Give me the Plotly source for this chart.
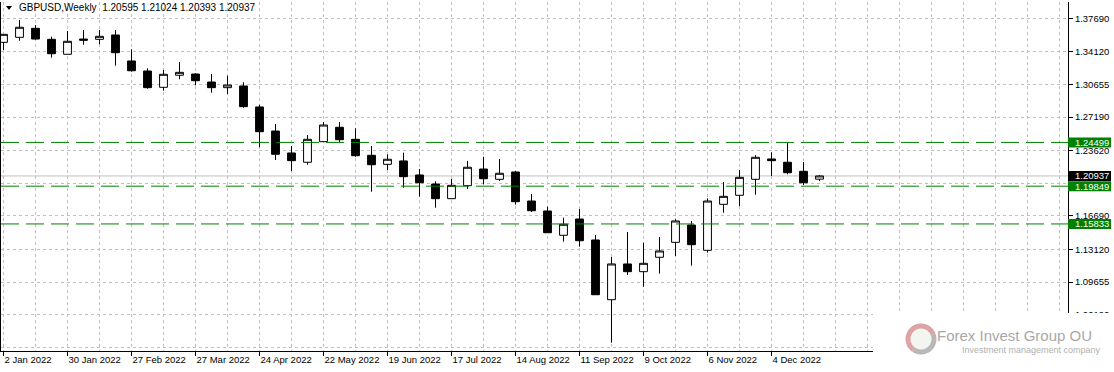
import numpy as np
import pandas as pd
import plotly.graph_objects as go

# ---------------- data ----------------
weeks = pd.date_range("2022-01-02", periods=52, freq="7D").strftime("%Y-%m-%d").tolist()

opens = [1.3514, 1.3567, 1.3663, 1.3546, 1.3387, 1.3549, 1.3546, 1.3592, 1.3316, 1.3209,
         1.3036, 1.3164, 1.3177, 1.3092, 1.3032, 1.3050, 1.2827, 1.2571, 1.2338, 1.2239,
         1.2458, 1.2611, 1.2483, 1.2313, 1.2217, 1.2253, 1.2104, 1.2008, 1.1852, 1.1990,
         1.2167, 1.2058, 1.2136, 1.1827, 1.1721, 1.1463, 1.1636, 1.1413, 1.0778, 1.1158,
         1.1076, 1.1229, 1.1388, 1.1572, 1.1303, 1.1792, 1.1888, 1.2058, 1.2274, 1.2239,
         1.2143, 1.20595]
highs = [1.3600, 1.3751, 1.3698, 1.3574, 1.3634, 1.3645, 1.3645, 1.3645, 1.3440, 1.3238,
         1.3220, 1.3305, 1.3185, 1.3177, 1.3159, 1.3089, 1.2851, 1.2646, 1.2412, 1.2529,
         1.2667, 1.2667, 1.2600, 1.2412, 1.2324, 1.2341, 1.2167, 1.2037, 1.2061, 1.2253,
         1.2298, 1.2274, 1.2146, 1.1902, 1.1767, 1.1650, 1.1742, 1.1466, 1.1232, 1.1498,
         1.1384, 1.1445, 1.1633, 1.1615, 1.1856, 1.2029, 1.2157, 1.2316, 1.2345, 1.2447,
         1.2242, 1.21024]
lows = [1.3433, 1.3531, 1.3542, 1.3351, 1.3385, 1.3489, 1.3493, 1.3266, 1.3202, 1.3021,
        1.3000, 1.3121, 1.3057, 1.2979, 1.2965, 1.2819, 1.2398, 1.2263, 1.2146, 1.2213,
        1.2455, 1.2451, 1.2298, 1.1926, 1.2157, 1.1969, 1.1873, 1.1756, 1.1850, 1.1955,
        1.2005, 1.2040, 1.1788, 1.1710, 1.1488, 1.1395, 1.1342, 1.0830, 1.0321, 1.1041,
        1.0916, 1.1055, 1.1243, 1.1140, 1.1278, 1.1703, 1.1774, 1.1894, 1.2093, 1.2111,
        1.1997, 1.20393]
closes = [1.3599, 1.3674, 1.3549, 1.3393, 1.3525, 1.3537, 1.3578, 1.3404, 1.3212, 1.3032,
          1.3174, 1.3195, 1.3106, 1.3032, 1.3060, 1.2830, 1.2564, 1.2324, 1.2256, 1.2483,
          1.2635, 1.2479, 1.2309, 1.2213, 1.2271, 1.2086, 1.2022, 1.1852, 1.1994, 1.2186,
          1.2064, 1.2122, 1.1820, 1.1724, 1.1490, 1.1580, 1.1405, 1.0831, 1.1158, 1.1076,
          1.1165, 1.1296, 1.1615, 1.1363, 1.1827, 1.1877, 1.2079, 1.2292, 1.2256, 1.2128,
          1.2022, 1.20937]

x_tick_dates = ["2022-01-02", "2022-01-30", "2022-02-27", "2022-03-27", "2022-04-24",
                "2022-05-22", "2022-06-19", "2022-07-17", "2022-08-14", "2022-09-11",
                "2022-10-09", "2022-11-06", "2022-12-04"]
x_tick_labels = ["2 Jan 2022", "30 Jan 2022", "27 Feb 2022", "27 Mar 2022", "24 Apr 2022",
                 "22 May 2022", "19 Jun 2022", "17 Jul 2022", "14 Aug 2022", "11 Sep 2022",
                 "9 Oct 2022", "6 Nov 2022", "4 Dec 2022"]
# 1.20155 and 1.02725 only show as grid lines: their labels are hidden in the original
y_tick_vals = [1.37690, 1.34120, 1.30655, 1.27190, 1.23620, 1.20155, 1.16690,
               1.13120, 1.09655, 1.06190, 1.02725]
y_tick_labels = ["1.37690", "1.34120", "1.30655", "1.27190", "1.23620", "", "1.16690",
                 "1.13120", "1.09655", "1.06190", ""]

level_values = [1.24499, 1.19849, 1.15833]
level_labels = ["1.24499", "1.19849", "1.15833"]
last_close = 1.20937
title_text = "GBPUSD,Weekly\u00a0\u00a01.20595 1.21024 1.20393 1.20937"

# ---------------- layout geometry ----------------
W, H = 1114, 372
PL, PR, PT, PB = 1, 1068, 2, 351
Y_MIN, Y_MAX = 1.02328, 1.39427
VPP = (Y_MAX - Y_MIN) / (PB - PT)

def px_x(px):
    return (px - PL) / (PR - PL)

def px_y(py):
    return (PB - py) / (PB - PT)

t0 = pd.Timestamp(weeks[0])
x_left = t0 + pd.Timedelta(days=-0.15625 * 7)
x_right = t0 + pd.Timedelta(days=((PR - 3.5) / 16) * 7)

FONT = "Liberation Sans, Arial, sans-serif"
FS = 9.5
GRID = "#c0c0c0"

fig = go.Figure()
fig.add_trace(go.Candlestick(
    x=weeks, open=opens, high=highs, low=lows, close=closes,
    increasing=dict(line=dict(color="black", width=1), fillcolor="white"),
    decreasing=dict(line=dict(color="black", width=1), fillcolor="black"),
    whiskerwidth=0, hoverinfo="skip", showlegend=False,
))

shapes = []
shapes.append(dict(type="line", xref="paper", yref="y", x0=0, x1=1, y0=last_close, y1=last_close,
                   line=dict(color="#c0c0c0", width=1), layer="below"))
for v in level_values:
    shapes.append(dict(type="line", xref="paper", yref="y", x0=0, x1=1, y0=v, y1=v,
                       line=dict(color="#008000", width=1, dash="18px,7px"), layer="above"))

annotations = []
box_x0, box_x1 = px_x(1068), px_x(1111)
for v, lab in zip(level_values, level_labels):
    shapes.append(dict(type="rect", xref="paper", yref="y", x0=box_x0, x1=box_x1,
                       y0=v - 5 * VPP, y1=v + 5 * VPP, fillcolor="#008000",
                       line=dict(width=0), layer="above"))
    annotations.append(dict(xref="paper", yref="y", x=px_x(1073), y=v, text=lab,
                            xanchor="left", yanchor="middle", showarrow=False,
                            font=dict(family=FONT, size=FS, color="white")))
shapes.append(dict(type="rect", xref="paper", yref="y", x0=box_x0, x1=box_x1,
                   y0=last_close - 5 * VPP, y1=last_close + 5 * VPP, fillcolor="black",
                   line=dict(width=0), layer="above"))
annotations.append(dict(xref="paper", yref="y", x=px_x(1073), y=last_close, text="1.20937",
                        xanchor="left", yanchor="middle", showarrow=False,
                        font=dict(family=FONT, size=FS, color="white")))

# title
shapes.append(dict(type="path", xref="paper", yref="paper",
                   path=f"M {px_x(6)},{px_y(6)} L {px_x(12)},{px_y(6)} L {px_x(9)},{px_y(10)} Z",
                   fillcolor="black", line=dict(width=0), layer="above"))
annotations.append(dict(xref="paper", yref="paper", x=px_x(17), y=px_y(8), text=title_text,
                        xanchor="left", yanchor="middle", showarrow=False,
                        font=dict(family=FONT, size=10, color="black")))

# watermark logo
shapes.append(dict(type="rect", xref="paper", yref="paper", x0=px_x(873), x1=px_x(1114),
                   y0=px_y(313), y1=px_y(372), fillcolor="white", line=dict(width=0), layer="above"))
cx, cy, r = 921, 339, 13
shapes.append(dict(type="circle", xref="paper", yref="paper", x0=px_x(cx - r), x1=px_x(cx + r),
                   y0=px_y(cy + r), y1=px_y(cy - r), fillcolor="#f3f5f0", line=dict(width=0),
                   layer="above"))

def arc(a0, a1):
    th = np.radians(np.linspace(a0, a1, 30))
    pts = [(px_x(cx + r * np.cos(t)), px_y(cy - r * np.sin(t))) for t in th]
    return "M " + " L ".join(f"{x:.5f},{y:.5f}" for x, y in pts)

shapes.append(dict(type="path", xref="paper", yref="paper", path=arc(20, 235),
                   line=dict(color="#dca4a4", width=5), layer="above"))
shapes.append(dict(type="path", xref="paper", yref="paper", path=arc(235, 380),
                   line=dict(color="#b8b8b8", width=5), layer="above"))
annotations.append(dict(xref="paper", yref="paper", x=px_x(1094), y=px_y(335),
                        text="Forex Invest Group OU", xanchor="right", yanchor="middle",
                        showarrow=False,
                        font=dict(family=FONT, size=15, color="#a8a8a8")))
annotations.append(dict(xref="paper", yref="paper", x=px_x(1103), y=px_y(350),
                        text="Investment management company", xanchor="right", yanchor="middle",
                        showarrow=False,
                        font=dict(family=FONT, size=9, color="#b0b0b0")))

fig.update_layout(
    width=W, height=H,
    margin=dict(l=PL, r=W - PR, t=PT, b=H - PB, pad=0, autoexpand=False),
    paper_bgcolor="white", plot_bgcolor="white",
    showlegend=False, hovermode=False,
    shapes=shapes, annotations=annotations,
    xaxis=dict(
        type="date", range=[x_left, x_right], rangeslider=dict(visible=False),
        tickmode="array", tickvals=x_tick_dates, ticktext=x_tick_labels,
        ticks="outside", ticklen=4, tickcolor="black", tickwidth=1, tickangle=0,
        ticklabelposition="outside right",
        tickfont=dict(family=FONT, size=FS, color="black"),
        showgrid=True, gridcolor=GRID, gridwidth=1, griddash="3px,3px",
        minor=dict(tickmode="linear", tick0=weeks[0], dtick=14 * 86400000,
                   showgrid=True, gridcolor=GRID, gridwidth=1, griddash="3px,3px", ticks=""),
        showline=True, linecolor="black", linewidth=1, zeroline=False, automargin=False,
        fixedrange=True,
    ),
    yaxis=dict(
        side="right", range=[Y_MIN, Y_MAX],
        tickmode="array", tickvals=y_tick_vals, ticktext=y_tick_labels,
        ticks="outside", ticklen=4, tickcolor="black", tickwidth=1,
        tickfont=dict(family=FONT, size=FS, color="black"),
        showgrid=True, gridcolor=GRID, gridwidth=1, griddash="3px,3px",
        showline=True, mirror=True, linecolor="black", linewidth=1,
        zeroline=False, automargin=False, fixedrange=True,
    ),
)

fig.write_html(
    "out.html",
    config={"staticPlot": True},
    post_script="document.body.style.margin='0';document.body.style.padding='0';"
                "document.body.style.overflow='hidden';",
)
